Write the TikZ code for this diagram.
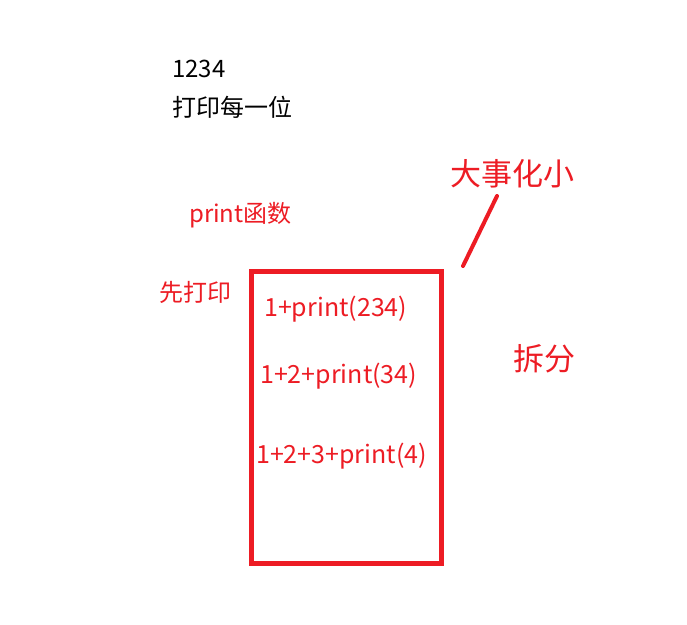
\documentclass[tikz,border=0pt]{standalone}
\usepackage{fontspec}
\newfontfamily\cjk{Noto Sans CJK SC}
\definecolor{myred}{HTML}{ED1C24}
\begin{document}
\begin{tikzpicture}[x=1pt,y=-1pt,
  txt/.style={anchor=base west,inner sep=0pt,font=\cjk\fontsize{24}{28}\selectfont},
  blk/.style={txt,text=black},
  rtxt/.style={txt,text=myred},
  boxtxt/.style={anchor=base west,inner sep=0pt,text=myred,font=\cjk\fontsize{25}{29}\selectfont},
  big/.style={anchor=base west,inner sep=0pt,text=myred,font=\cjk\fontsize{31}{36}\selectfont},
  redline/.style={draw=myred,line width=4.5pt}]
\useasboundingbox[fill=white] (0,0) rectangle (687,624);
\node[blk] (n1234) at (172,77) {1234};
\node[blk] (ndy) at (172,116) {打印每一位};
\node[rtxt] (npf) at (189,222) {print函数};
\node[rtxt] (nxdy) at (159,301) {先打印};
\node[big] (ndsh) at (450,185) {大事化小};
\node[big] (ncf) at (513,370) {拆分};
\coordinate (bl) at (251.5,271.5);
\coordinate (tr) at (441.5,563.5);
\draw[redline] (bl) rectangle (tr);
\node[boxtxt] (r1) at (264,316) {1+print(234)};
\node[boxtxt] (r2) at (260,383) {1+2+print(34)};
\node[boxtxt] (r3) at (256,463) {1+2+3+print(4)};
\coordinate (la) at (497,196);
\coordinate (lb) at (463,266);
\draw[draw=myred,line width=4pt,line cap=round] (la) -- (lb);
\end{tikzpicture}
\end{document}
